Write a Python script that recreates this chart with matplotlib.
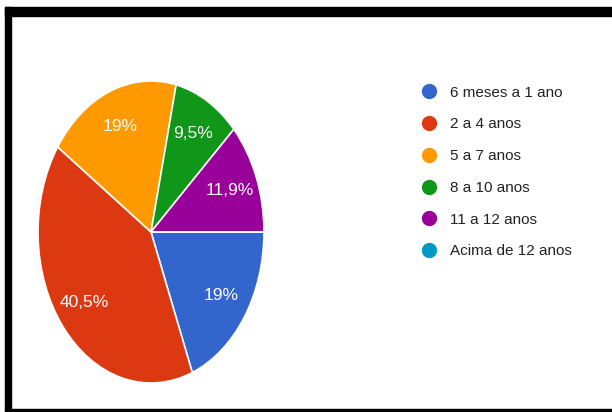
import matplotlib
matplotlib.use("Agg")
import matplotlib.pyplot as plt
from matplotlib.lines import Line2D
from matplotlib.patches import Rectangle

categories = ["6 meses a 1 ano", "2 a 4 anos", "5 a 7 anos", "8 a 10 anos",
              "11 a 12 anos", "Acima de 12 anos"]
counts = [8, 17, 8, 4, 5, 0]
colors = ["#3366cc", "#dc3912", "#ff9900", "#109618", "#990099", "#0099c6"]

plt.rcParams['font.family'] = ['Liberation Sans', 'DejaVu Sans']

W, H = 612, 412
fig = plt.figure(figsize=(W / 100, H / 100), dpi=100)

# pie axes (elliptical, stretched vertically as in reference)
x0, x1, y0, y1 = 38, 264, 81, 383
ax = fig.add_axes([x0 / W, 1 - y1 / H, (x1 - x0) / W, (y1 - y0) / H])


def fmt(p):
    if p <= 0:
        return ""
    s = f"{p:.1f}"
    if s.endswith(".0"):
        s = s[:-2]
    return s.replace(".", ",") + "%"


wedges, texts, autotexts = ax.pie(
    counts, colors=colors, startangle=0, counterclock=False,
    autopct=fmt, pctdistance=0.75,
    wedgeprops=dict(edgecolor="white", linewidth=1.2),
    textprops=dict(color="white", fontsize=12.5),
)
ax.set_aspect("auto")
ax.set_xlim(-1.0, 1.0)
ax.set_ylim(-1.0, 1.0)
ax.axis("off")

# legend
handles = [Line2D([0], [0], marker="o", linestyle="none", markersize=10,
                  markerfacecolor=c, markeredgecolor=c) for c in colors]
fig.legend(handles, categories, loc="upper left",
           bbox_to_anchor=(406 / W, 1 - 72 / H), frameon=False,
           fontsize=11, labelspacing=1.16, handletextpad=0.75,
           handlelength=1.2, labelcolor="#222222")

# black frame
fig.patches.append(Rectangle((5 / W, 1 - 16 / H), 1 - 5 / W, 9 / H,
                             transform=fig.transFigure, color="black"))
fig.patches.append(Rectangle((5 / W, 0), 6 / W, 1 - 7 / H,
                             transform=fig.transFigure, color="black"))
fig.patches.append(Rectangle((5 / W, 0), 1 - 5 / W, 3 / H,
                             transform=fig.transFigure, color="black"))

fig.savefig("out.png", dpi=100)
